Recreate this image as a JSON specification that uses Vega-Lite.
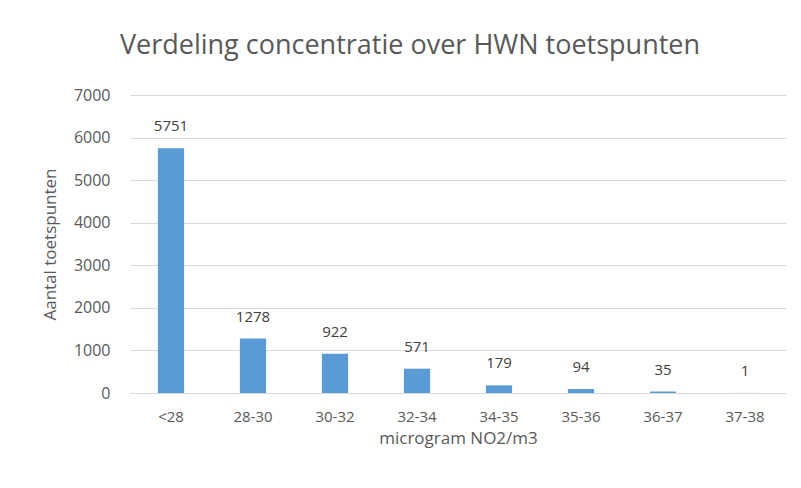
{
  "$schema": "https://vega.github.io/schema/vega-lite/v6.json",
  "autosize": {"type": "none"},
  "padding": {"left": 130, "top": 95, "right": 15, "bottom": 95},
  "width": 656,
  "height": 298,
  "background": "white",
  "title": {
    "text": "Verdeling concentratie over HWN toetspunten",
    "font": "Open Sans",
    "fontSize": 27,
    "fontWeight": "normal",
    "color": "#595959",
    "anchor": "middle",
    "frame": "group",
    "dx": -48,
    "offset": 27
  },
  "data": {
    "values": [
      {"klasse": "<28", "aantal": 5751},
      {"klasse": "28-30", "aantal": 1278},
      {"klasse": "30-32", "aantal": 922},
      {"klasse": "32-34", "aantal": 571},
      {"klasse": "34-35", "aantal": 179},
      {"klasse": "35-36", "aantal": 94},
      {"klasse": "36-37", "aantal": 35},
      {"klasse": "37-38", "aantal": 1}
    ]
  },
  "config": {
    "view": {"stroke": null},
    "axis": {
      "labelFont": "Open Sans",
      "titleFont": "Open Sans",
      "labelColor": "#595959",
      "titleColor": "#595959",
      "labelFontSize": 15,
      "titleFontSize": 17,
      "titleFontWeight": "normal"
    }
  },
  "encoding": {
    "x": {
      "field": "klasse",
      "type": "nominal",
      "sort": null,
      "scale": {"paddingInner": 0.68, "paddingOuter": 0.34},
      "axis": {
        "title": "microgram NO2/m3",
        "labelAngle": 0,
        "ticks": false,
        "domain": true,
        "domainColor": "#d9d9d9",
        "labelPadding": 16,
        "titlePadding": 6
      }
    },
    "y": {
      "field": "aantal",
      "type": "quantitative",
      "scale": {"domain": [0, 7000]},
      "axis": {
        "title": "Aantal toetspunten",
        "values": [0, 1000, 2000, 3000, 4000, 5000, 6000, 7000],
        "format": "d",
        "ticks": false,
        "domain": false,
        "gridColor": "#d9d9d9",
        "labelFontSize": 16,
        "labelPadding": 20,
        "titlePadding": 14
      }
    }
  },
  "layer": [
    {"mark": {"type": "bar", "color": "#5B9BD5"}},
    {
      "mark": {"type": "text", "dy": -22, "font": "Open Sans", "fontSize": 15, "color": "#404040"},
      "encoding": {"text": {"field": "aantal", "type": "quantitative"}}
    }
  ]
}
